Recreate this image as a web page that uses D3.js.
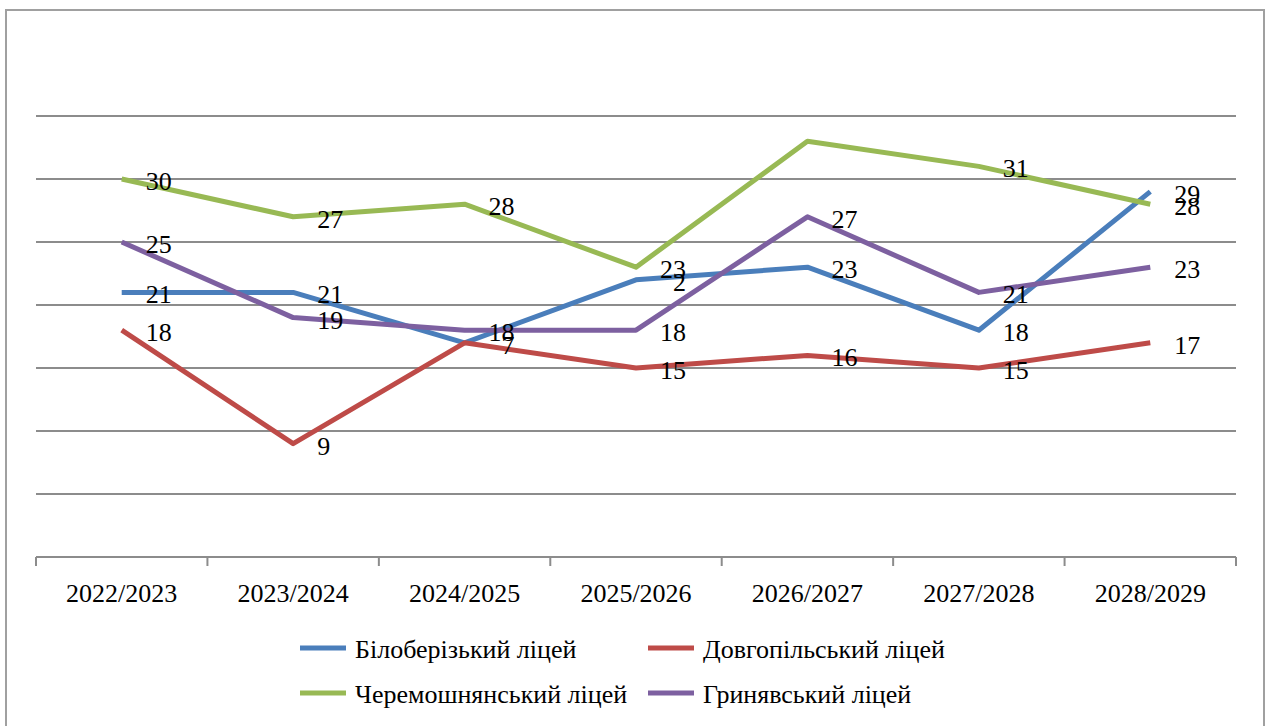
<!DOCTYPE html>
<html>
<head>
<meta charset="utf-8">
<script src="https://cdn.jsdelivr.net/npm/d3@7/dist/d3.min.js"></script>
<style>
  html, body { margin: 0; padding: 0; background: #fff; }
  svg { display: block; }
</style>
</head>
<body>
<svg id="chart" width="1272" height="726"></svg>
<script>
// ---- data ----
const categories = ["2022/2023", "2023/2024", "2024/2025", "2025/2026", "2026/2027", "2027/2028", "2028/2029"];
const seriesNames = ["Білоберізький ліцей", "Довгопільський ліцей", "Черемошнянський ліцей", "Гринявський ліцей"];
const bilobValues = [21, 21, 17, 22, 23, 18, 29];
const dovhValues  = [18, 9, 17, 15, 16, 15, 17];
const cheremValues = [30, 27, 28, 23, 33, 31, 28];
const hrynValues  = [25, 19, 18, 18, 27, 21, 23];
// data labels as they appear (empty = not shown); hidden = leading chars covered in the original
const bilobLabels = ["21", "21", "17", "22", "23", "18", "29"];
const bilobHidden = [0, 0, 1, 1, 0, 0, 0];
const dovhLabels  = ["18", "9", "", "15", "16", "15", "17"];
const dovhHidden  = [0, 0, 0, 0, 0, 0, 0];
const cheremLabels = ["30", "27", "28", "23", "", "31", "28"];
const cheremHidden = [0, 0, 0, 0, 0, 0, 0];
const hrynLabels  = ["25", "19", "18", "18", "27", "21", "23"];
const hrynHidden  = [0, 0, 0, 0, 0, 0, 0];
const yTicks = [0, 5, 10, 15, 20, 25, 30, 35];
const colors = ["#4a7ebb", "#be4b48", "#98b954", "#7d60a0"];

const series = [
  { name: seriesNames[0], values: bilobValues, labels: bilobLabels, hidden: bilobHidden, color: colors[0] },
  { name: seriesNames[1], values: dovhValues, labels: dovhLabels, hidden: dovhHidden, color: colors[1] },
  { name: seriesNames[2], values: cheremValues, labels: cheremLabels, hidden: cheremHidden, color: colors[2] },
  { name: seriesNames[3], values: hrynValues, labels: hrynLabels, hidden: hrynHidden, color: colors[3] }
];

// ---- layout ----
const FONT = "'Liberation Serif', Tinos, 'Times New Roman', 'DejaVu Serif', serif";
const svg = d3.select("#chart").attr("font-family", FONT);
const plot = { left: 36, right: 1236, top: 116, bottom: 557 };
const FS = 26;

// outer border
svg.append("rect").attr("x", 6).attr("y", 10).attr("width", 1258).attr("height", 730)
  .attr("fill", "#fff").attr("stroke", "#a0a0a0").attr("stroke-width", 2);

const x = d3.scaleBand().domain(categories).range([plot.left, plot.right]).padding(0);
const y = d3.scaleLinear().domain([0, 35]).range([plot.bottom, plot.top]);

// gridlines
svg.append("g").selectAll("line").data(yTicks.filter(d => d > 0)).join("line")
  .attr("x1", plot.left).attr("x2", plot.right)
  .attr("y1", d => y(d)).attr("y2", d => y(d))
  .attr("stroke", "#8c8c8c").attr("stroke-width", 2);

// x axis
const xAxis = svg.append("g").attr("transform", `translate(0,${plot.bottom})`);
xAxis.append("line").attr("x1", plot.left).attr("x2", plot.right).attr("y1", 0).attr("y2", 0)
  .attr("stroke", "#8c8c8c").attr("stroke-width", 2);
const bounds = categories.map(c => x(c)).concat([plot.right]);
xAxis.selectAll("line.tick").data(bounds).join("line").attr("class", "tick")
  .attr("x1", d => d).attr("x2", d => d).attr("y1", 0).attr("y2", 9)
  .attr("stroke", "#8c8c8c").attr("stroke-width", 2);
xAxis.selectAll("text").data(categories).join("text")
  .attr("x", d => x(d) + x.bandwidth() / 2).attr("y", 36)
  .attr("text-anchor", "middle").attr("dominant-baseline", "central")
  .attr("font-family", FONT).attr("font-size", FS).attr("fill", "#000").text(d => d);

// lines
const line = d3.line().x((d, i) => x(categories[i]) + x.bandwidth() / 2).y(d => y(d));
svg.append("g").selectAll("path").data(series).join("path")
  .attr("d", d => line(d.values)).attr("fill", "none")
  .attr("stroke", d => d.color).attr("stroke-width", 5).attr("stroke-linejoin", "round");

// data labels
const lg = svg.append("g");
series.forEach(s => {
  s.values.forEach((v, i) => {
    const lab = s.labels[i];
    if (!lab) return;
    const t = lg.append("text")
      .attr("x", x(categories[i]) + x.bandwidth() / 2 + 24)
      .attr("y", y(v) + 2)
      .attr("dominant-baseline", "central")
      .attr("font-family", FONT).attr("font-size", FS).attr("fill", "#000");
    const h = s.hidden[i];
    if (h > 0) t.append("tspan").attr("fill-opacity", 0).text(lab.slice(0, h));
    t.append("tspan").text(lab.slice(h));
  });
});

// legend
const legendPos = [
  { lx: 300, ly: 648 }, { lx: 648, ly: 648 },
  { lx: 300, ly: 693 }, { lx: 648, ly: 693 }
];
const leg = svg.append("g").selectAll("g").data(series).join("g")
  .attr("transform", (d, i) => `translate(${legendPos[i].lx},${legendPos[i].ly})`);
leg.append("line").attr("x1", 0).attr("x2", 46).attr("y1", 0).attr("y2", 0)
  .attr("stroke", d => d.color).attr("stroke-width", 5);
leg.append("text").attr("x", 55).attr("y", 1).attr("dominant-baseline", "central")
  .attr("font-family", FONT).attr("font-size", FS).attr("fill", "#000").text(d => d.name);
</script>
</body>
</html>
